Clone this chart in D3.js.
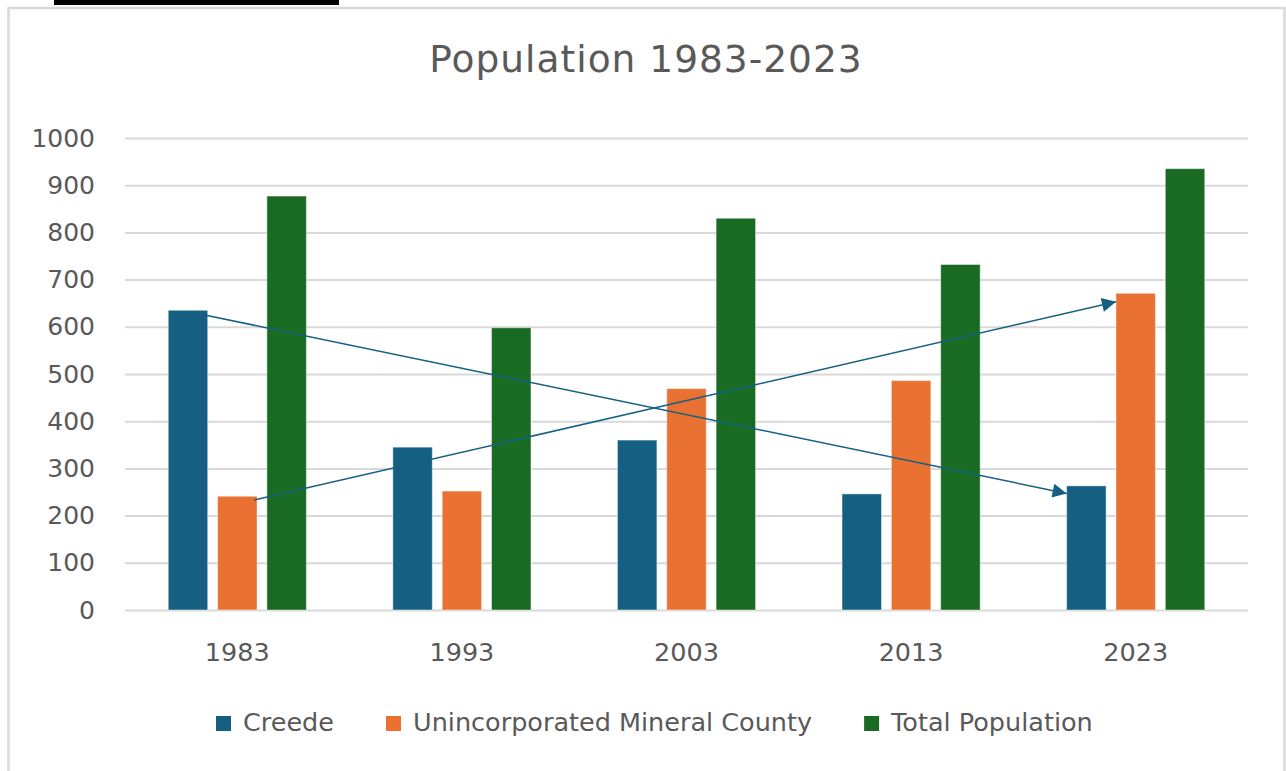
<!DOCTYPE html>
<html>
<head>
<meta charset="utf-8">
<script src="https://cdn.jsdelivr.net/npm/d3@7"></script>
<style>
  body { margin: 0; background: #fff; }
  svg { display: block; }
  .axis text { font-family: "DejaVu Sans", sans-serif; fill: #595959; }
</style>
</head>
<body>
<div class="chart"></div>
<script>
// data
var years = ["1983", "1993", "2003", "2013", "2023"];
var seriesNames = ["Creede", "Unincorporated Mineral County", "Total Population"];
var creede = [635, 345, 360, 246, 263];
var unincorporated = [241, 252, 469, 486, 671];
var totalPopulation = [877, 598, 830, 732, 935];
var yTicks = [0, 100, 200, 300, 400, 500, 600, 700, 800, 900, 1000];
var seriesColors = ["#156082", "#E97132", "#196B24"];

// the two trend arrows drawn on top of the bars
var trendArrows = [
    {series: "Creede", from: "1983", fromValue: 625, to: "2023", toValue: 247},
    {series: "Unincorporated Mineral County", from: "1983", fromValue: 233, to: "2023", toValue: 653}
];

var width = 1286, height = 771;
var margin = {top: 138, right: 38, bottom: 161, left: 125};
var plotWidth = width - margin.left - margin.right,
    plotHeight = height - margin.top - margin.bottom;

var rows = years.map(function(y, i) {
    return {year: y, values: [creede[i], unincorporated[i], totalPopulation[i]]};
});

var svg = d3.select(".chart").append("svg")
    .attr("width", width)
    .attr("height", height);

// black strip at the top and the chart frame
svg.append("rect")
    .attr("x", 54).attr("y", 0)
    .attr("width", 285).attr("height", 5)
    .attr("fill", "#000");

svg.append("rect")
    .attr("x", 8.5).attr("y", 8)
    .attr("width", 1276).attr("height", 780)
    .attr("fill", "#fff")
    .attr("stroke", "#d9d9d9")
    .attr("stroke-width", 2.5);

svg.append("text")
    .attr("x", 646)
    .attr("y", 72)
    .attr("text-anchor", "middle")
    .attr("font-family", "DejaVu Sans, sans-serif")
    .attr("font-size", 37.5)
    .attr("letter-spacing", 1)
    .attr("fill", "#595959")
    .text("Population 1983-2023");

var chart = svg.append("g")
    .attr("transform", "translate(" + margin.left + "," + margin.top + ")");

var x0 = d3.scaleBand()
    .domain(years)
    .range([0, plotWidth])
    .paddingInner(0.385)
    .paddingOuter(0.1925);

var x1 = d3.scaleBand()
    .domain(seriesNames)
    .range([0, x0.bandwidth()])
    .paddingInner(0.2);

var y = d3.scaleLinear()
    .domain([0, 1000])
    .range([plotHeight, 0]);

var color = d3.scaleOrdinal()
    .domain(seriesNames)
    .range(seriesColors);

// gridlines + y labels
var yAxis = chart.append("g")
    .attr("class", "axis")
    .call(d3.axisLeft(y).tickValues(yTicks).tickFormat(d3.format("d")).tickSize(-plotWidth).tickPadding(30));
yAxis.select(".domain").remove();
yAxis.selectAll("line").attr("stroke", "#d9d9d9").attr("stroke-width", 2);
yAxis.selectAll("text").attr("font-size", 25);

// x labels
var xAxis = chart.append("g")
    .attr("class", "axis")
    .attr("transform", "translate(0," + plotHeight + ")")
    .call(d3.axisBottom(x0).tickSize(0).tickPadding(33));
xAxis.select(".domain").remove();
xAxis.selectAll("text").attr("font-size", 25.5);

// bars
chart.append("g")
    .selectAll("g")
    .data(rows)
    .enter().append("g")
    .attr("transform", function(d) { return "translate(" + x0(d.year) + ",0)"; })
    .selectAll("rect")
    .data(function(d) { return d.values.map(function(v, i) { return {key: seriesNames[i], value: v}; }); })
    .enter().append("rect")
    .attr("x", function(d) { return x1(d.key); })
    .attr("y", function(d) { return y(d.value); })
    .attr("width", x1.bandwidth())
    .attr("height", function(d) { return plotHeight - y(d.value); })
    .attr("fill", function(d) { return color(d.key); })
    .attr("stroke", "#fff")
    .attr("stroke-opacity", 0.45)
    .attr("stroke-width", 1);

// arrowhead
svg.append("defs").append("marker")
    .attr("id", "arrowhead")
    .attr("markerUnits", "userSpaceOnUse")
    .attr("viewBox", "0 0 10 10")
    .attr("refX", 10).attr("refY", 5)
    .attr("markerWidth", 16).attr("markerHeight", 14)
    .attr("orient", "auto")
    .append("path")
    .attr("d", "M0,0L10,5L0,10Z")
    .attr("fill", "#156082");

chart.append("g")
    .selectAll("line")
    .data(trendArrows)
    .enter().append("line")
    .attr("x1", function(d) { return x0(d.from) + x1(d.series) + x1.bandwidth() - 3; })
    .attr("y1", function(d) { return y(d.fromValue); })
    .attr("x2", function(d) { return x0(d.to) + x1(d.series); })
    .attr("y2", function(d) { return y(d.toValue); })
    .attr("stroke", "#156082")
    .attr("stroke-width", 1.5)
    .attr("marker-end", "url(#arrowhead)");

// legend
var legend = svg.append("g")
    .attr("font-family", "DejaVu Sans, sans-serif")
    .attr("font-size", 25.5)
    .attr("fill", "#595959");

var legendX = 216;
seriesNames.forEach(function(name) {
    legend.append("rect")
        .attr("x", legendX).attr("y", 716)
        .attr("width", 15).attr("height", 15)
        .attr("fill", color(name));
    var t = legend.append("text")
        .attr("x", legendX + 27)
        .attr("y", 731)
        .text(name);
    legendX += 27 + t.node().getComputedTextLength() + 52;
});
</script>
</body>
</html>
